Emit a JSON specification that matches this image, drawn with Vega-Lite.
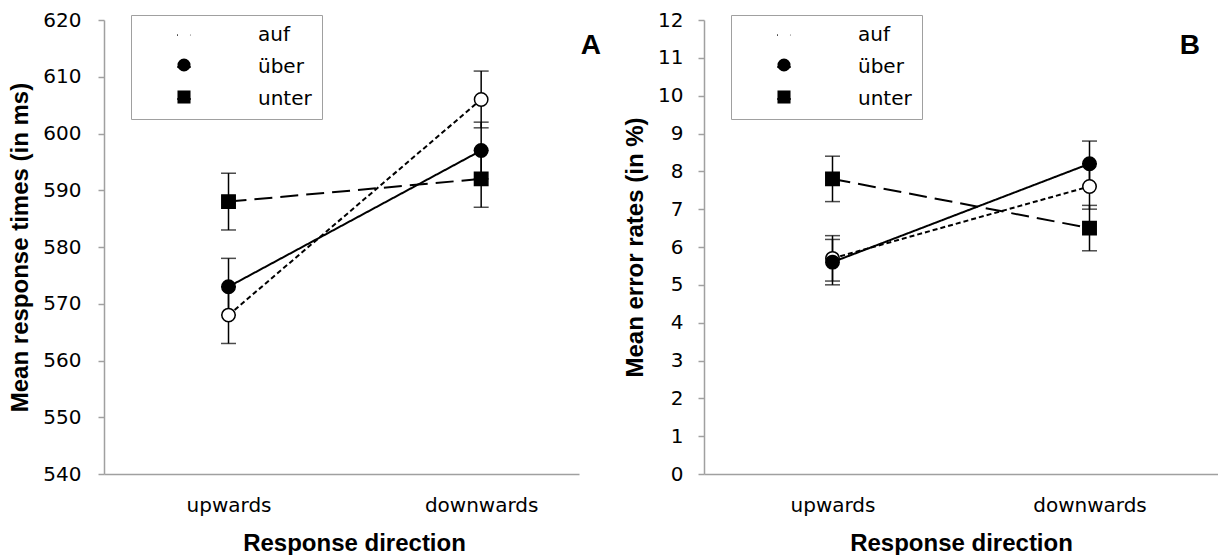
{
  "$schema": "https://vega.github.io/schema/vega-lite/v6.json",
  "background": "white",
  "padding": {"left": 8, "top": 10, "right": 0, "bottom": 0},
  "spacing": 22,
  "resolve": {
    "scale": {"shape": "independent", "fill": "independent", "strokeDash": "independent", "size": "independent"},
    "legend": {"shape": "independent", "fill": "independent", "strokeDash": "independent"}
  },
  "config": {
    "view": {"stroke": null},
    "font": "DejaVu Sans",
    "axis": {
      "labelFont": "DejaVu Sans", "titleFont": "Liberation Sans",
      "labelFontSize": 20, "titleFontWeight": "bold", "titleFontSize": 24,
      "labelColor": "black", "titleColor": "black",
      "domainColor": "#a0a0a0", "domainWidth": 1.5,
      "tickColor": "#a0a0a0", "tickWidth": 1.5, "grid": false
    },
    "axisY": {"tickSize": 6, "titlePadding": 10},
    "axisX": {"ticks": false, "labelPadding": 21, "titlePadding": 16, "labelAngle": 0}
  },
  "datasets": {
    "rt": [
      {"direction": "upwards", "prep": "auf", "mean": 568, "lo": 563, "hi": 573},
      {"direction": "upwards", "prep": "über", "mean": 573, "lo": 568, "hi": 578},
      {"direction": "upwards", "prep": "unter", "mean": 588, "lo": 583, "hi": 593},
      {"direction": "downwards", "prep": "auf", "mean": 606, "lo": 601, "hi": 611},
      {"direction": "downwards", "prep": "über", "mean": 597, "lo": 592, "hi": 602},
      {"direction": "downwards", "prep": "unter", "mean": 592, "lo": 587, "hi": 597}
    ],
    "er": [
      {"direction": "upwards", "prep": "auf", "mean": 5.7, "lo": 5.1, "hi": 6.3},
      {"direction": "upwards", "prep": "über", "mean": 5.6, "lo": 5.0, "hi": 6.2},
      {"direction": "upwards", "prep": "unter", "mean": 7.8, "lo": 7.2, "hi": 8.4},
      {"direction": "downwards", "prep": "auf", "mean": 7.6, "lo": 7.0, "hi": 8.2},
      {"direction": "downwards", "prep": "über", "mean": 8.2, "lo": 7.6, "hi": 8.8},
      {"direction": "downwards", "prep": "unter", "mean": 6.5, "lo": 5.9, "hi": 7.1}
    ]
  },
  "hconcat": [
    {
      "width": 475, "height": 454,
      "data": {"name": "rt"},
      "title": {"text": "A", "anchor": "end", "frame": "group", "fontSize": 28, "fontWeight": "bold", "font": "Liberation Sans", "color": "black", "offset": 0, "baseline": "alphabetic", "dx": 22, "dy": 72},
      "encoding": {
        "x": {"field": "direction", "type": "nominal", "sort": ["upwards", "downwards"], "title": "Response direction",
              "scale": {"type": "point", "padding": 0.44, "align": 0.56},
              "axis": {"titleX": 250}}
      },
      "layer": [
        {
          "mark": {"type": "line", "color": "black", "strokeWidth": 2},
          "encoding": {
            "y": {"field": "mean", "type": "quantitative", "title": "Mean response times (in ms)",
                  "scale": {"domain": [540, 620], "nice": false, "zero": false},
                  "axis": {"values": [540, 550, 560, 570, 580, 590, 600, 610, 620], "labelPadding": 17}},
            "strokeDash": {"field": "prep", "type": "nominal", "scale": {"domain": ["auf", "über", "unter"], "range": [[5, 3], [1, 0], [18, 8]]},
              "legend": {"title": null, "orient": "none", "legendX": 27, "legendY": -5, "symbolType": "stroke", "symbolSize": 4900,
                "symbolStrokeColor": "black", "symbolStrokeWidth": 2, "symbolOffset": 33, "labelOffset": 64, "rowPadding": 12, "padding": 10,
                "labelFont": "DejaVu Sans", "labelFontSize": 20, "labelColor": "black", "strokeColor": "#a0a0a0",
                "encode": {"symbols": {"update": {"size": {"value": 4900}, "stroke": {"value": "black"}, "strokeWidth": {"value": 2}}}}}}
          }
        },
        {
          "mark": {"type": "rule", "color": "black", "strokeWidth": 1.5},
          "encoding": {
            "y": {"field": "lo", "type": "quantitative", "title": "Mean response times (in ms)",
                  "axis": {"values": [540, 550, 560, 570, 580, 590, 600, 610, 620], "labelPadding": 17}},
            "y2": {"field": "hi"}
          }
        },
        {
          "mark": {"type": "tick", "color": "black", "size": 15, "thickness": 1.5, "orient": "horizontal"},
          "encoding": {"y": {"field": "lo", "type": "quantitative", "title": "Mean response times (in ms)",
                  "axis": {"values": [540, 550, 560, 570, 580, 590, 600, 610, 620], "labelPadding": 17}}}
        },
        {
          "mark": {"type": "tick", "color": "black", "size": 15, "thickness": 1.5, "orient": "horizontal"},
          "encoding": {"y": {"field": "hi", "type": "quantitative", "title": "Mean response times (in ms)",
                  "axis": {"values": [540, 550, 560, 570, 580, 590, 600, 610, 620], "labelPadding": 17}}}
        },
        {
          "mark": {"type": "point", "filled": true, "stroke": "black", "strokeWidth": 1.5, "opacity": 1},
          "encoding": {
            "y": {"field": "mean", "type": "quantitative", "title": "Mean response times (in ms)",
                  "axis": {"values": [540, 550, 560, 570, 580, 590, 600, 610, 620], "labelPadding": 17}},
            "shape": {"field": "prep", "type": "nominal", "scale": {"domain": ["auf", "über", "unter"], "range": ["circle", "circle", "square"]},
              "legend": {"title": null, "orient": "top-left", "offset": 3, "padding": 0, "symbolSize": 170, "symbolOffset": 67, "rowPadding": 12,
                "labelFont": "DejaVu Sans", "labelFontSize": 20, "labelOpacity": 0, "symbolStrokeColor": "black", "symbolStrokeWidth": 1.5,
                "encode": {"symbols": {"update": {
                  "fill": {"signal": "datum.value === 'auf' ? 'white' : 'black'"},
                  "size": {"signal": "datum.value === 'unter' ? 230 : 150"},
                  "stroke": {"value": "black"}, "strokeWidth": {"value": 1.5}, "strokeOpacity": {"value": 1}, "fillOpacity": {"value": 1}, "opacity": {"value": 1}}}}}},
            "fill": {"field": "prep", "type": "nominal", "scale": {"domain": ["auf", "über", "unter"], "range": ["white", "black", "black"]}, "legend": null},
            "size": {"field": "prep", "type": "nominal", "scale": {"domain": ["auf", "über", "unter"], "range": [180, 180, 230]}, "legend": null}
          }
        }
      ]
    },
    {
      "width": 514, "height": 454,
      "data": {"name": "er"},
      "title": {"text": "B", "anchor": "end", "frame": "group", "fontSize": 28, "fontWeight": "bold", "font": "Liberation Sans", "color": "black", "offset": 0, "baseline": "alphabetic", "dx": -18, "dy": 72},
      "encoding": {
        "x": {"field": "direction", "type": "nominal", "sort": ["upwards", "downwards"], "title": "Response direction",
              "scale": {"type": "point", "padding": 0.5, "align": 0.5}}
      },
      "layer": [
        {
          "mark": {"type": "line", "color": "black", "strokeWidth": 2},
          "encoding": {
            "y": {"field": "mean", "type": "quantitative", "title": "Mean error rates (in %)",
                  "scale": {"domain": [0, 12], "nice": false},
                  "axis": {"values": [0, 1, 2, 3, 4, 5, 6, 7, 8, 9, 10, 11, 12], "labelPadding": 15}},
            "strokeDash": {"field": "prep", "type": "nominal", "scale": {"domain": ["auf", "über", "unter"], "range": [[5, 3], [1, 0], [18, 8]]},
              "legend": {"title": null, "orient": "none", "legendX": 27, "legendY": -5, "symbolType": "stroke", "symbolSize": 4900,
                "symbolStrokeColor": "black", "symbolStrokeWidth": 2, "symbolOffset": 33, "labelOffset": 64, "rowPadding": 12, "padding": 10,
                "labelFont": "DejaVu Sans", "labelFontSize": 20, "labelColor": "black", "strokeColor": "#a0a0a0",
                "encode": {"symbols": {"update": {"size": {"value": 4900}, "stroke": {"value": "black"}, "strokeWidth": {"value": 2}}}}}}
          }
        },
        {
          "mark": {"type": "rule", "color": "black", "strokeWidth": 1.5},
          "encoding": {
            "y": {"field": "lo", "type": "quantitative", "title": "Mean error rates (in %)",
                  "axis": {"values": [0, 1, 2, 3, 4, 5, 6, 7, 8, 9, 10, 11, 12], "labelPadding": 15}},
            "y2": {"field": "hi"}
          }
        },
        {
          "mark": {"type": "tick", "color": "black", "size": 15, "thickness": 1.5, "orient": "horizontal"},
          "encoding": {"y": {"field": "lo", "type": "quantitative", "title": "Mean error rates (in %)",
                  "axis": {"values": [0, 1, 2, 3, 4, 5, 6, 7, 8, 9, 10, 11, 12], "labelPadding": 15}}}
        },
        {
          "mark": {"type": "tick", "color": "black", "size": 15, "thickness": 1.5, "orient": "horizontal"},
          "encoding": {"y": {"field": "hi", "type": "quantitative", "title": "Mean error rates (in %)",
                  "axis": {"values": [0, 1, 2, 3, 4, 5, 6, 7, 8, 9, 10, 11, 12], "labelPadding": 15}}}
        },
        {
          "mark": {"type": "point", "filled": true, "stroke": "black", "strokeWidth": 1.5, "opacity": 1},
          "encoding": {
            "y": {"field": "mean", "type": "quantitative", "title": "Mean error rates (in %)",
                  "axis": {"values": [0, 1, 2, 3, 4, 5, 6, 7, 8, 9, 10, 11, 12], "labelPadding": 15}},
            "shape": {"field": "prep", "type": "nominal", "scale": {"domain": ["auf", "über", "unter"], "range": ["circle", "circle", "square"]},
              "legend": {"title": null, "orient": "top-left", "offset": 3, "padding": 0, "symbolSize": 170, "symbolOffset": 67, "rowPadding": 12,
                "labelFont": "DejaVu Sans", "labelFontSize": 20, "labelOpacity": 0, "symbolStrokeColor": "black", "symbolStrokeWidth": 1.5,
                "encode": {"symbols": {"update": {
                  "fill": {"signal": "datum.value === 'auf' ? 'white' : 'black'"},
                  "size": {"signal": "datum.value === 'unter' ? 230 : 150"},
                  "stroke": {"value": "black"}, "strokeWidth": {"value": 1.5}, "strokeOpacity": {"value": 1}, "fillOpacity": {"value": 1}, "opacity": {"value": 1}}}}}},
            "fill": {"field": "prep", "type": "nominal", "scale": {"domain": ["auf", "über", "unter"], "range": ["white", "black", "black"]}, "legend": null},
            "size": {"field": "prep", "type": "nominal", "scale": {"domain": ["auf", "über", "unter"], "range": [180, 180, 230]}, "legend": null}
          }
        }
      ]
    }
  ]
}
